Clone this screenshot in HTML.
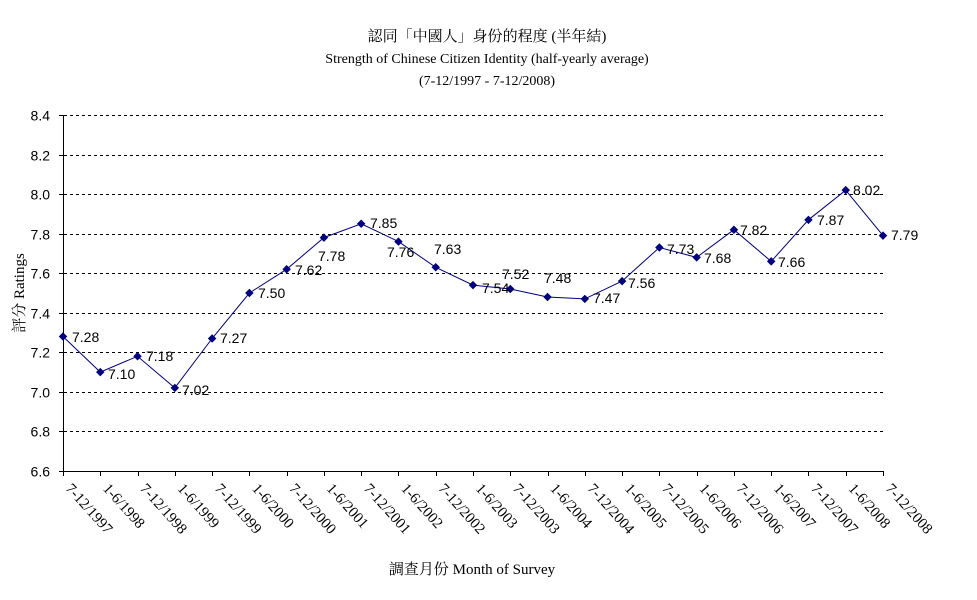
<!DOCTYPE html>
<html><head><meta charset="utf-8"><style>
html,body{margin:0;padding:0;background:#fff;}
svg{display:block;}
.s{font-family:"Liberation Serif","Noto Serif CJK TC",serif;}
.a{font-family:"Liberation Sans","Noto Sans CJK TC",sans-serif;}
</style></head><body>
<svg width="977" height="600" xmlns="http://www.w3.org/2000/svg">
<g class="s" font-size="14" text-anchor="middle" fill="#000">
<text x="487" y="41" font-size="15">認同「中國人」身份的程度 (半年結)</text>
<text x="487" y="63">Strength of Chinese Citizen Identity (half-yearly average)</text>
<text x="487" y="85">(7-12/1997 - 7-12/2008)</text>
<text x="472" y="574" font-size="15">調查月份 Month of Survey</text>
<text transform="translate(24,293) rotate(-90)" font-size="15">評分 Ratings</text>
</g>
<g id="grid" stroke="#000" stroke-dasharray="3,3" stroke-width="1"></g>
<g id="yl" class="a" font-size="14" text-anchor="end"></g>
<line x1="63.5" y1="115" x2="63.5" y2="471" stroke="#000"/>
<line x1="63" y1="471.5" x2="884" y2="471.5" stroke="#000"/>
<g id="tk" stroke="#000"></g>
<g id="xl" class="s" font-size="15"></g>
<polyline id="pl" fill="none" stroke="#000080" stroke-width="1"/>
<g id="mk" fill="#000080"></g>
<g id="dl" class="a" font-size="14"></g>
</svg>
<script>
var ns="http://www.w3.org/2000/svg";
function el(t,a,p,txt){var e=document.createElementNS(ns,t);for(var k in a)e.setAttribute(k,a[k]);if(txt)e.textContent=txt;document.getElementById(p).appendChild(e);return e;}
var Y=function(v){return 471-(v-6.6)*356/1.8;};
for(var i=0;i<=9;i++){var v=6.6+i*0.2,y=Math.round(Y(v))+0.5;
 if(i>0)el("line",{x1:64,y1:y,x2:883,y2:y},"grid");
 el("line",{x1:59,y1:y,x2:63,y2:y},"tk");
 el("text",{x:50,y:y+5},"yl",v.toFixed(1));}
var d=[7.28,7.10,7.18,7.02,7.27,7.50,7.62,7.78,7.85,7.76,7.63,7.54,7.52,7.48,7.47,7.56,7.73,7.68,7.82,7.66,7.87,8.02,7.79];
var L=[[72,337],[108,374],[146,356],[182,390],[220,338],[258,293],[295,270],[318,256],[370,223],[387,252],[434,249],[482,288],[502,274],[544,278],[593,298],[628,283],[667,249],[704,258],[740,230],[778,262],[817,220],[853,190],[891,235]];
var cats=[];for(var y=1997;y<=2008;y++){if(y>1997)cats.push("1-6/"+y);cats.push("7-12/"+y);}
var pts=[];
d.forEach(function(v,i){var x=63+i*820/22,y=Y(v);pts.push(x.toFixed(1)+","+y.toFixed(1));
 el("rect",{x:x-3,y:y-3,width:6,height:6,transform:"rotate(45 "+x+" "+y+")"},"mk");
 el("line",{x1:Math.round(x)+0.5,y1:471,x2:Math.round(x)+0.5,y2:476},"tk");
 el("text",{x:L[i][0],y:L[i][1]+5},"dl",v.toFixed(2));
 el("text",{x:0,y:0,transform:"translate("+(x+2)+",489) rotate(48)"},"xl",cats[i]);
});
document.getElementById("pl").setAttribute("points",pts.join(" "));
</script>
</body></html>
